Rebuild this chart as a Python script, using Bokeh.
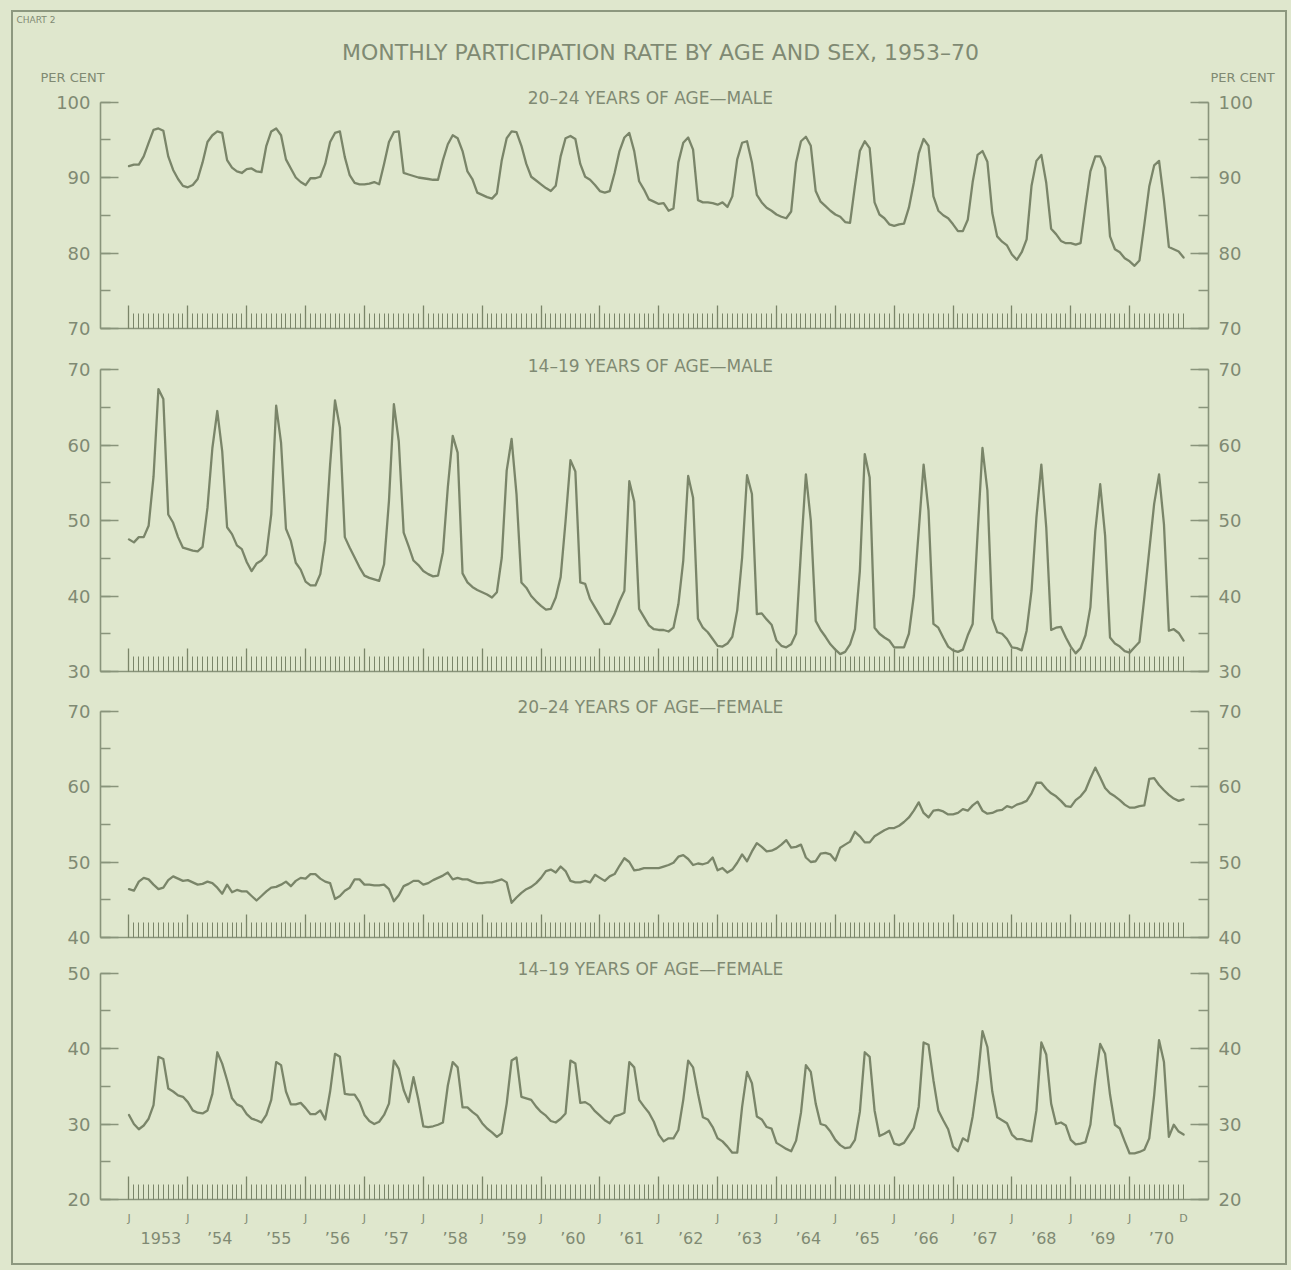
import numpy as np
from bokeh.plotting import figure
from bokeh.layouts import column
from bokeh.models import LinearAxis, Range1d, SingleIntervalTicker, FixedTicker
from bokeh.core.properties import value
from bokeh.embed import file_html
from bokeh.resources import INLINE

# ---------------- data (monthly, Jan 1953 - Dec 1970), per cent ----------------
year_labels = ["1953", "’54", "’55", "’56", "’57", "’58", "’59", "’60", "’61",
               "’62", "’63", "’64", "’65", "’66", "’67", "’68", "’69", "’70"]

panel_titles = ["20–24 YEARS OF AGE—MALE", "14–19 YEARS OF AGE—MALE",
                "20–24 YEARS OF AGE—FEMALE", "14–19 YEARS OF AGE—FEMALE"]

male_20_24 = [
    91.5, 91.7, 91.7, 92.8, 94.6, 96.3, 96.5, 96.2, 92.8, 91.0, 89.8, 88.9,
    88.7, 89.0, 89.8, 92.0, 94.7, 95.6, 96.1, 95.9, 92.3, 91.3, 90.8, 90.6,
    91.1, 91.2, 90.8, 90.7, 94.2, 96.1, 96.5, 95.6, 92.4, 91.2, 90.0, 89.4,
    89.0, 89.9, 89.9, 90.1, 91.8, 94.7, 95.9, 96.1, 92.7, 90.3, 89.3, 89.1,
    89.1, 89.2, 89.4, 89.1, 91.8, 94.7, 96.0, 96.1, 90.6, 90.4, 90.2, 90.0,
    89.9, 89.8, 89.7, 89.7, 92.3, 94.4, 95.6, 95.2, 93.5, 90.8, 89.8, 88.0,
    87.7, 87.4, 87.2, 87.9, 92.3, 95.2, 96.1, 96.0, 94.2, 91.8, 90.1, 89.6,
    89.1, 88.6, 88.2, 88.9, 92.8, 95.2, 95.5, 95.1, 91.8, 90.1, 89.7, 89.0,
    88.2, 88.0, 88.2, 90.6, 93.5, 95.3, 95.9, 93.5, 89.5, 88.4, 87.1, 86.8,
    86.5, 86.6, 85.6, 85.9, 92.0, 94.6, 95.3, 93.7, 87.0, 86.7, 86.7, 86.6,
    86.4, 86.7, 86.1, 87.5, 92.4, 94.6, 94.8, 92.0, 87.7, 86.7, 86.0, 85.6,
    85.1, 84.8, 84.6, 85.5, 92.0, 94.8, 95.4, 94.2, 88.2, 86.8, 86.2, 85.6,
    85.1, 84.8, 84.1, 84.0, 88.9, 93.5, 94.8, 93.9, 86.7, 85.1, 84.6, 83.8,
    83.6, 83.8, 83.9, 86.0, 89.3, 93.2, 95.1, 94.2, 87.5, 85.6, 85.0, 84.6,
    83.8, 82.9, 82.9, 84.4, 89.4, 93.0, 93.5, 92.1, 85.3, 82.2, 81.5, 81.0,
    79.8, 79.1, 80.1, 81.8, 88.9, 92.2, 93.0, 89.3, 83.2, 82.5, 81.6, 81.3,
    81.3, 81.1, 81.3, 86.2, 90.8, 92.8, 92.8, 91.3, 82.2, 80.5, 80.1, 79.3,
    78.9, 78.3, 79.0, 83.8, 88.8, 91.6, 92.2, 87.0, 80.8, 80.5, 80.2, 79.4,
]

male_14_19 = [
    47.5, 47.1, 47.8, 47.8, 49.3, 55.8, 67.4, 66.1, 50.8, 49.7, 47.8, 46.4,
    46.2, 46.0, 45.9, 46.5, 51.7, 59.6, 64.5, 59.2, 49.1, 48.2, 46.7, 46.2,
    44.5, 43.3, 44.3, 44.7, 45.5, 50.8, 65.2, 60.3, 48.9, 47.3, 44.4, 43.5,
    41.9, 41.4, 41.4, 42.9, 47.3, 57.4, 65.9, 62.3, 47.8, 46.4, 45.1, 43.8,
    42.7, 42.4, 42.2, 42.0, 44.2, 52.6, 65.4, 60.5, 48.4, 46.6, 44.7, 44.1,
    43.3, 42.9, 42.6, 42.7, 45.8, 54.4, 61.2, 59.0, 43.0, 41.8, 41.2, 40.8,
    40.5, 40.2, 39.8, 40.5, 45.1, 56.6, 60.8, 53.5, 41.8, 41.1, 40.0, 39.3,
    38.7, 38.2, 38.3, 39.8, 42.5, 49.9, 58.0, 56.5, 41.8, 41.6, 39.6, 38.5,
    37.4, 36.3, 36.3, 37.6, 39.3, 40.7, 55.2, 52.5, 38.3, 37.2, 36.1, 35.6,
    35.5, 35.5, 35.3, 35.8, 38.9, 44.7, 55.9, 53.0, 37.0, 35.8, 35.2, 34.3,
    33.4, 33.3, 33.7, 34.6, 38.1, 45.1, 56.0, 53.5, 37.6, 37.7, 36.9, 36.2,
    34.1, 33.4, 33.2, 33.6, 35.0, 46.0, 56.1, 50.0, 36.7, 35.5, 34.6, 33.6,
    32.9, 32.3, 32.6, 33.6, 35.6, 43.3, 58.8, 55.7, 35.8, 35.0, 34.5, 34.1,
    33.2, 33.2, 33.2, 35.0, 40.0, 48.6, 57.4, 51.3, 36.3, 35.8, 34.5, 33.3,
    32.8, 32.6, 32.9, 34.8, 36.3, 48.2, 59.6, 54.0, 37.0, 35.2, 35.0, 34.3,
    33.2, 33.1, 32.8, 35.4, 40.7, 50.4, 57.4, 49.1, 35.5, 35.8, 35.9, 34.5,
    33.3, 32.4, 33.1, 34.8, 38.5, 48.6, 54.8, 48.0, 34.5, 33.7, 33.3, 32.7,
    32.5, 33.2, 33.9, 39.8, 46.0, 52.2, 56.1, 49.5, 35.4, 35.6, 35.1, 34.1,
]

female_20_24 = [
    46.4, 46.2, 47.4, 47.9, 47.7, 47.0, 46.4, 46.6, 47.6, 48.1, 47.8, 47.5,
    47.6, 47.3, 47.0, 47.1, 47.4, 47.2, 46.6, 45.8, 47.0, 46.0, 46.3, 46.1,
    46.1, 45.5, 44.9, 45.5, 46.1, 46.6, 46.7, 47.0, 47.4, 46.8, 47.5, 47.9,
    47.8, 48.4, 48.4, 47.8, 47.4, 47.2, 45.1, 45.5, 46.2, 46.6, 47.7, 47.7,
    47.0, 47.0, 46.9, 46.9, 47.0, 46.4, 44.8, 45.6, 46.8, 47.1, 47.5, 47.5,
    47.0, 47.2, 47.6, 47.9, 48.2, 48.6, 47.7, 47.9, 47.7, 47.7, 47.4, 47.2,
    47.2, 47.3, 47.3, 47.5, 47.7, 47.3, 44.6, 45.3, 45.9, 46.4, 46.7, 47.2,
    47.9, 48.8, 49.0, 48.6, 49.4, 48.8, 47.5, 47.3, 47.3, 47.5, 47.3, 48.3,
    47.9, 47.5, 48.1, 48.4, 49.5, 50.5, 50.0, 48.9, 49.0, 49.2, 49.2, 49.2,
    49.2, 49.4, 49.6, 49.9, 50.7, 50.9, 50.4, 49.6, 49.8, 49.7, 49.9, 50.6,
    48.9, 49.2, 48.6, 49.0, 49.9, 51.0, 50.1, 51.4, 52.5, 52.0, 51.4, 51.5,
    51.8, 52.3, 52.9, 51.9, 52.0, 52.3, 50.6, 50.0, 50.1, 51.1, 51.2, 51.0,
    50.2, 51.9, 52.3, 52.7, 54.0, 53.4, 52.6, 52.6, 53.4, 53.8, 54.2, 54.5,
    54.5, 54.8, 55.3, 55.9, 56.8, 57.9, 56.5, 55.9, 56.8, 56.9, 56.7, 56.3,
    56.3, 56.5, 57.0, 56.8, 57.5, 58.0, 56.8, 56.4, 56.5, 56.8, 56.9, 57.4,
    57.2, 57.6, 57.8, 58.1, 59.1, 60.5, 60.5, 59.7, 59.1, 58.7, 58.1, 57.4,
    57.3, 58.2, 58.7, 59.5, 61.1, 62.5, 61.2, 59.8, 59.1, 58.7, 58.2, 57.6,
    57.2, 57.2, 57.4, 57.5, 61.0, 61.1, 60.2, 59.5, 58.9, 58.4, 58.1, 58.3,
]

female_14_19 = [
    31.2, 30.0, 29.3, 29.8, 30.7, 32.5, 38.9, 38.6, 34.7, 34.3, 33.8, 33.6,
    32.9, 31.8, 31.5, 31.4, 31.8, 34.0, 39.5, 38.0, 35.8, 33.4, 32.6, 32.3,
    31.3, 30.7, 30.5, 30.2, 31.2, 33.2, 38.2, 37.8, 34.3, 32.6, 32.6, 32.8,
    32.1, 31.3, 31.3, 31.8, 30.6, 34.3, 39.3, 38.9, 34.0, 33.9, 33.9, 32.9,
    31.2, 30.4, 30.0, 30.3, 31.2, 32.7, 38.4, 37.3, 34.5, 32.9, 36.2, 33.2,
    29.7, 29.6, 29.7, 29.9, 30.2, 35.1, 38.2, 37.5, 32.2, 32.2, 31.6, 31.1,
    30.1, 29.4, 28.9, 28.3, 28.8, 32.7, 38.4, 38.8, 33.6, 33.4, 33.2, 32.3,
    31.6, 31.1, 30.4, 30.2, 30.7, 31.4, 38.4, 38.0, 32.8, 32.9, 32.5, 31.7,
    31.1, 30.5, 30.1, 31.0, 31.2, 31.5, 38.2, 37.5, 33.2, 32.3, 31.5, 30.3,
    28.6, 27.7, 28.1, 28.1, 29.2, 33.2, 38.4, 37.5, 34.0, 30.9, 30.6, 29.6,
    28.1, 27.7, 27.0, 26.2, 26.2, 32.3, 36.9, 35.4, 31.0, 30.6, 29.6, 29.4,
    27.5, 27.1, 26.7, 26.4, 27.8, 31.5, 37.8, 36.9, 32.7, 30.0, 29.8, 29.0,
    27.9, 27.2, 26.8, 26.9, 27.9, 31.6, 39.5, 38.9, 31.8, 28.4, 28.7, 29.1,
    27.4, 27.2, 27.5, 28.5, 29.5, 32.3, 40.8, 40.5, 35.8, 31.8, 30.5, 29.3,
    27.0, 26.4, 28.1, 27.7, 31.0, 35.8, 42.3, 40.2, 34.3, 30.9, 30.5, 30.1,
    28.6, 28.0, 28.0, 27.8, 27.7, 31.8, 40.8, 39.2, 32.7, 30.0, 30.2, 29.8,
    27.9, 27.3, 27.4, 27.6, 29.9, 35.8, 40.6, 39.3, 33.9, 29.9, 29.4, 27.7,
    26.1, 26.1, 26.3, 26.6, 28.1, 33.8, 41.1, 38.2, 28.3, 29.9, 29.0, 28.6,
]

# ---------------- styling / layout ----------------
BG = "#dfe7cd"
INK = "#7a8569"
AXIS = "#89947b"
TEXT = "#7f8a73"
BORDER = "#8d987f"
FONT = "DejaVu Sans"

PAD_X, PAD_Y = 13, 12    # page offset of the chart block (inside the frame border)
W = 1272                 # figure width
LEFT = 87                # frame left offset inside each figure
FRAME_W = 1108           # frame width
RIGHT = W - LEFT - FRAME_W
S = 7.55                 # pixels per percentage point
X0, X1 = -5.81, 220.08   # month index at frame edges
N = len(male_20_24)
months = np.arange(N)
jan_ticks = list(range(0, N, 12))
month_ticks = list(range(N))


def make_panel(title, vals, lo, hi, frame_h, pad_bottom, last=False):
    top = lo + frame_h / S
    p = figure(width=W, height=frame_h + pad_bottom,
               x_range=Range1d(X0, X1), y_range=Range1d(lo, top),
               x_axis_location=None, y_axis_location=None, title_location=None,
               toolbar_location=None, output_backend="svg",
               min_border_left=LEFT, min_border_right=RIGHT,
               min_border_top=0, min_border_bottom=pad_bottom,
               background_fill_color=BG, border_fill_color=BG,
               outline_line_color=None)
    p.xgrid.grid_line_color = None
    p.ygrid.grid_line_color = None

    for side in ("left", "right"):
        ax = LinearAxis(bounds=(lo, hi),
                        ticker=SingleIntervalTicker(interval=10, num_minor_ticks=2),
                        axis_line_color=AXIS, axis_line_width=1.6,
                        major_tick_in=18, major_tick_out=0,
                        minor_tick_in=10, minor_tick_out=0,
                        major_tick_line_color=AXIS, major_tick_line_width=1.6,
                        minor_tick_line_color=AXIS, minor_tick_line_width=1.4,
                        major_label_text_font=FONT,
                        major_label_text_font_size="18px",
                        major_label_text_color=TEXT,
                        major_label_standoff=10)
        p.add_layout(ax, side)

    # monthly tick row along the base line
    mt = LinearAxis(ticker=FixedTicker(ticks=jan_ticks, minor_ticks=month_ticks),
                    axis_line_color=AXIS, axis_line_width=1.6,
                    major_tick_in=23, major_tick_out=0,
                    minor_tick_in=15, minor_tick_out=0,
                    major_tick_line_color=INK, major_tick_line_width=1.3,
                    minor_tick_line_color=INK, minor_tick_line_width=1.0,
                    major_label_overrides={t: "" for t in jan_ticks},
                    major_label_text_font_size="0px",
                    major_label_text_color=None,
                    major_label_standoff=0)
    p.add_layout(mt, "below")

    if last:
        jl = LinearAxis(ticker=FixedTicker(ticks=jan_ticks + [N - 1]),
                        major_label_overrides={**{t: "J" for t in jan_ticks}, N - 1: "D"},
                        axis_line_color=None, major_tick_line_color=None,
                        minor_tick_line_color=None,
                        major_tick_in=0, major_tick_out=0,
                        major_label_text_font=FONT,
                        major_label_text_font_size="11px",
                        major_label_text_color=TEXT,
                        major_label_standoff=12)
        p.add_layout(jl, "below")
        yt = [6.5 + 12 * i for i in range(len(year_labels))]
        yl = LinearAxis(ticker=FixedTicker(ticks=yt),
                        major_label_overrides=dict(zip(yt, year_labels)),
                        axis_line_color=None, major_tick_line_color=None,
                        minor_tick_line_color=None,
                        major_tick_in=0, major_tick_out=0,
                        major_label_text_font=FONT,
                        major_label_text_font_size="16px",
                        major_label_text_color=TEXT,
                        major_label_standoff=1)
        p.add_layout(yl, "below")

    p.line(months, vals, line_color=INK, line_width=2.3,
           line_join="round", line_cap="round")
    p.text(x=[106.3], y=[hi + 0.5], text=[title],
           text_align="center", text_baseline="middle",
           text_font=value(FONT), text_font_size="17px", text_color=TEXT)
    return p


# header with chart title (page coordinates minus the block offset)
HDR_H = 73
hdr = figure(width=W, height=HDR_H, x_range=Range1d(0, W), y_range=Range1d(HDR_H, 0),
             x_axis_location=None, y_axis_location=None, title_location=None,
             toolbar_location=None, output_backend="svg", min_border=0,
             frame_align=False,
             background_fill_color=BG, border_fill_color=BG, outline_line_color=None)
hdr.xgrid.grid_line_color = None
hdr.ygrid.grid_line_color = None
hdr.text(x=[647], y=[40], text=["MONTHLY PARTICIPATION RATE BY AGE AND SEX, 1953–70"],
         text_align="center", text_baseline="middle",
         text_font=value(FONT), text_font_size="22px", text_color=TEXT)
hdr.text(x=[59, 1229], y=[65, 65], text=["PER CENT", "PER CENT"],
         text_align="center", text_baseline="middle",
         text_font=value(FONT), text_font_size="13px", text_color=TEXT)
hdr.text(x=[3], y=[2], text=["CHART 2"], text_align="left", text_baseline="top",
         text_font=value(FONT), text_font_size="9px", text_color=TEXT)

p1 = make_panel(panel_titles[0], male_20_24, 70, 100, 243, 20)
p2 = make_panel(panel_titles[1], male_14_19, 30, 70, 323, 19)
p3 = make_panel(panel_titles[2], female_20_24, 40, 70, 247, 17)
p4 = make_panel(panel_titles[3], female_14_19, 20, 50, 245, 64, last=True)

layout = column(hdr, p1, p2, p3, p4,
                styles={"outline": "2px solid %s" % BORDER, "outline-offset": "0px"})

html = file_html(layout, INLINE, title="Monthly participation rate by age and sex, 1953–70")
html = html.replace(
    "</head>",
    "<style>html,body{background:%s;}body{padding:%dpx 0 0 %dpx;}</style></head>" % (BG, PAD_Y, PAD_X),
    1)
open("out.html", "w").write(html)
